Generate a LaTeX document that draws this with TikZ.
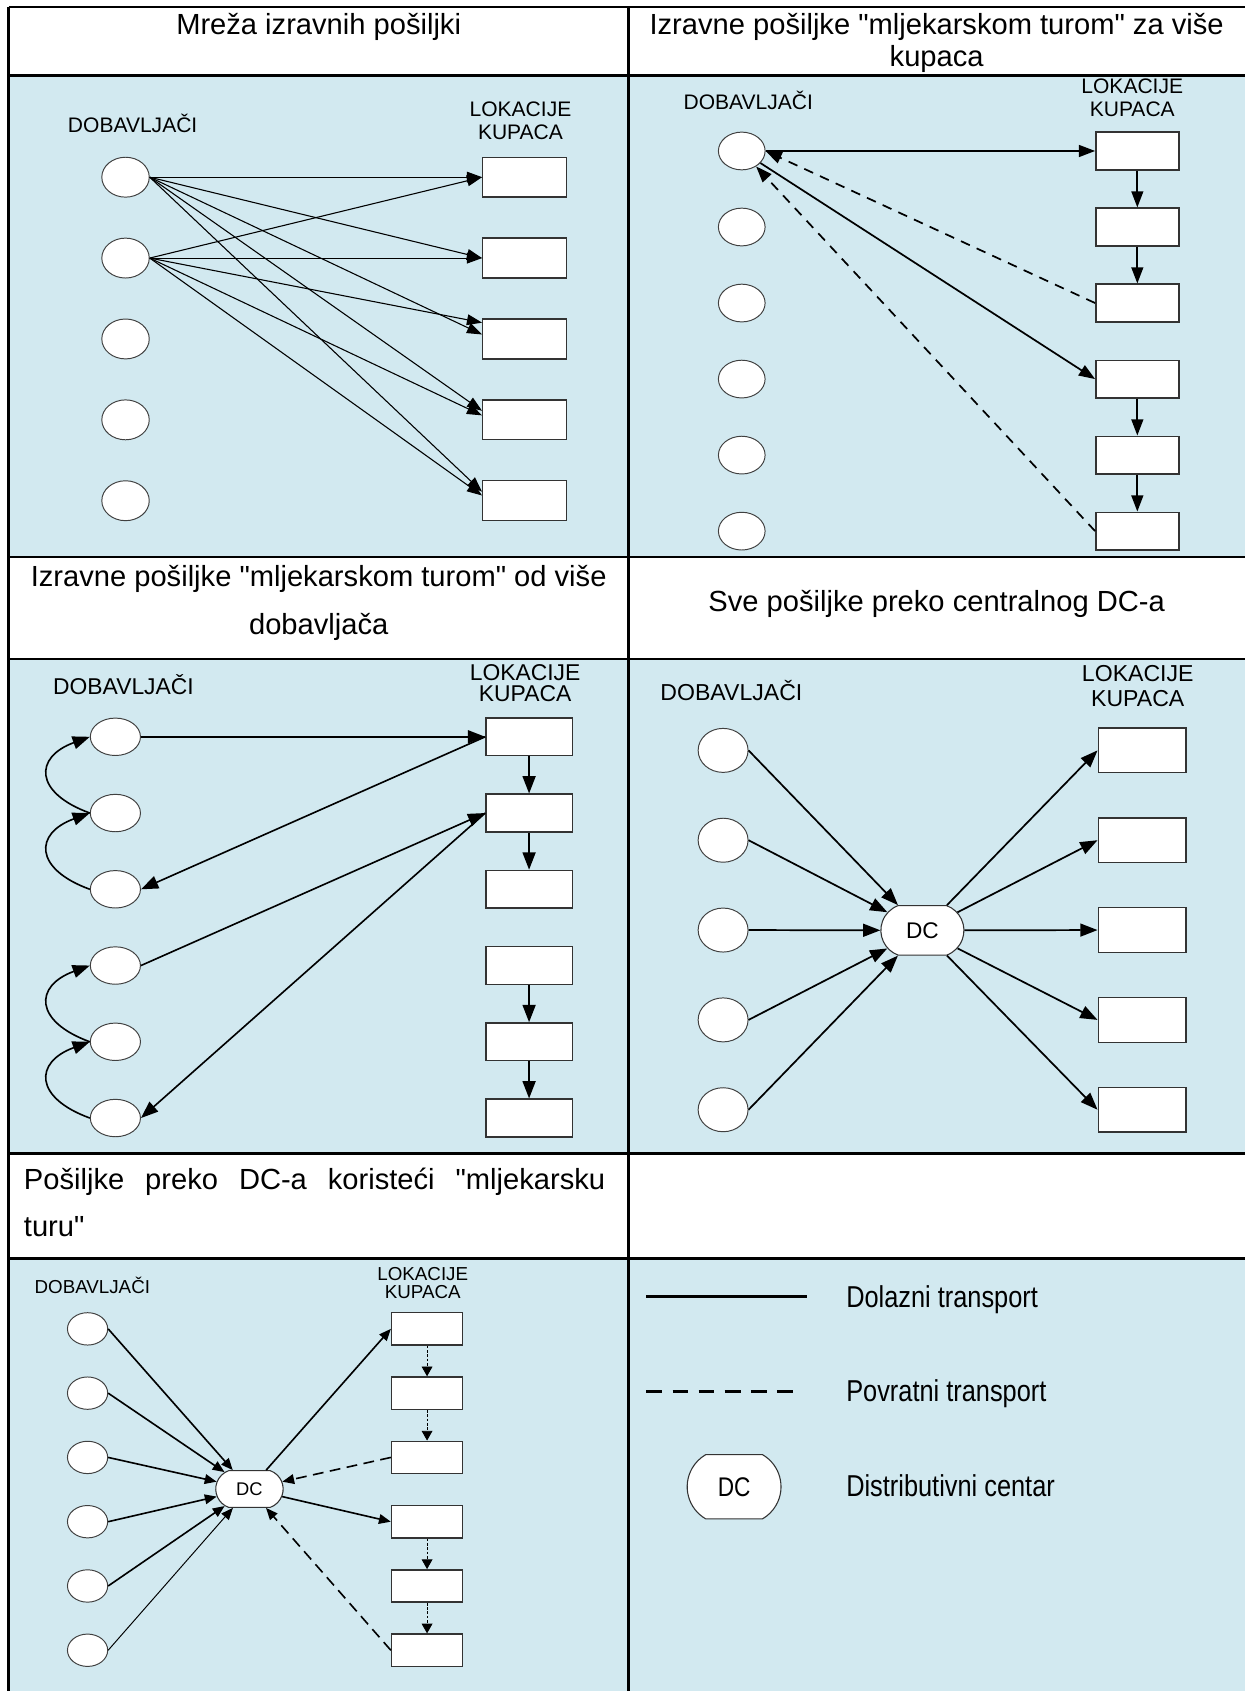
\documentclass[tikz,border=0pt]{standalone}
\usepackage{fontspec}
\setmainfont{Liberation Sans}[Ligatures=TeXOff]
\newfontfamily\narrowfont[FakeStretch=0.84]{Liberation Sans}
\usetikzlibrary{arrows.meta,shapes.geometric,shapes.misc,positioning}
\definecolor{panelblue}{RGB}{210,233,240}

\begin{document}
\begin{tikzpicture}[x=1pt, y=1pt, on grid,
  sup/.style = {draw=black!75, fill=white, ellipse, line width=0.9pt, inner sep=0pt},
  loc/.style = {draw=black!80, fill=white, rectangle, line width=1.3pt, inner sep=0pt},
  dc/.style = {draw=black!80, fill=white, rounded rectangle, rounded rectangle arc length=140, line width=1pt, inner sep=0pt},
  hdr/.style = {inner sep=0pt, anchor=base, font=\fontsize{27}{30}\selectfont},
  lbl/.style = {inner sep=0pt, anchor=base, font=\fontsize{19.5}{21}\selectfont},
  lok/.style = {inner sep=0pt, align=center, font=\fontsize{19.5}{21}\selectfont},
  leg/.style = {inner sep=0pt, anchor=base west, font=\narrowfont\fontsize{28}{30}\selectfont},
  back/.style = {dash pattern=on 9pt off 7pt},
  grid line/.style = {line width=2.6pt},
  >={Triangle[length=14pt,width=10pt]}]
\useasboundingbox (0,0) rectangle (1154,-1568);
\fill[white] (0,0) rectangle (1154,-1568);
\fill[panelblue] (8,-70) rectangle (1154,-516.5);
\fill[panelblue] (8,-611) rectangle (1154,-1069.5);
\fill[panelblue] (8,-1167) rectangle (1154,-1568);

% table
\draw[grid line] (8,-6.5) -- (1154,-6.5);
\draw[grid line] (8,-70) -- (1154,-70);
\draw[grid line] (8,-516.5) -- (1154,-516.5);
\draw[grid line] (8,-611) -- (1154,-611);
\draw[grid line] (8,-1069.5) -- (1154,-1069.5);
\draw[grid line] (8,-1167) -- (1154,-1167);
\draw[grid line] (8,-6.5) -- (8,-1568);
\draw[grid line] (583,-6.5) -- (583,-1568);

% headers
\node[hdr] (h1) at (295.5,-31.7) {Mreža izravnih pošiljki};
\node[hdr] (h2) at (868.5,-31.7) {Izravne pošiljke "mljekarskom turom" za više};
\node[hdr] (h2b) at (868.5,-61.7) {kupaca};
\node[hdr] (h3) at (295.5,-543.7) {Izravne pošiljke "mljekarskom turom" od više};
\node[hdr] (h3b) at (295.5,-588.7) {dobavljača};
\node[hdr] (h4) at (868.5,-566.7) {Sve pošiljke preko centralnog DC-a};
\node[hdr, anchor=base west] (h5) at (22,-1102.7) {\makebox[539pt][s]{Pošiljke preko DC-a koristeći "mljekarsku}};
\node[hdr, anchor=base west] (h5b) at (22,-1146.7) {turu"};

% mreza izravnih posiljki
\begin{scope}[node distance=75pt,
  sup/.append style={minimum width=44pt, minimum height=37pt},
  loc/.append style={minimum width=77.5pt, minimum height=37pt}]
\node[lbl] (p1d) at (123,-122.9) {DOBAVLJAČI};
\node[lok] (p1l) at (482.6,-111.7) {LOKACIJE\\KUPACA};
\node[sup] (p1s1) at (116.4,-164.3) {};
\node[sup] (p1s2) [below=of p1s1] {};
\node[sup] (p1s3) [below=of p1s2] {};
\node[sup] (p1s4) [below=of p1s3] {};
\node[sup] (p1s5) [below=of p1s4] {};
\node[loc] (p1k1) at (486.4,-164.3) {};
\node[loc] (p1k2) [below=of p1k1] {};
\node[loc] (p1k3) [below=of p1k2] {};
\node[loc] (p1k4) [below=of p1k3] {};
\node[loc] (p1k5) [below=of p1k4] {};

\draw[->, line width=1pt] (p1s1.east) -- (p1k1.west);
\draw[->, line width=1pt] (p1s1.east) -- (p1k2.west);
\draw[->, line width=1pt] (p1s1.east) -- (p1k3.174);
\draw[->, line width=1pt] (p1s1.east) -- (p1k4.168);
\draw[->, line width=1pt] (p1s1.east) -- (p1k5.168);
\draw[->, line width=1pt] (p1s2.east) -- (p1k1.west);
\draw[->, line width=1pt] (p1s2.east) -- (p1k2.west);
\draw[->, line width=1pt] (p1s2.east) -- (p1k3.159);
\draw[->, line width=1pt] (p1s2.east) -- (p1k4.174);
\draw[->, line width=1pt] (p1s2.east) -- (p1k5.173);
\end{scope}

% mljekarska tura za vise kupaca
\begin{scope}[node distance=70.5pt, line width=1.6pt,
  >={Triangle[length=15pt,width=11pt]},
  sup/.append style={minimum width=43.3pt, minimum height=35pt},
  loc/.append style={minimum width=77pt, minimum height=35pt}]
\node[lbl] (p2d) at (693.8,-101.4) {DOBAVLJAČI};
\node[lok] (p2l) at (1049.9,-90.4) {LOKACIJE\\KUPACA};
\node[sup] (p2s1) at (687.8,-140) {};
\node[sup] (p2s2) [below=of p2s1] {};
\node[sup] (p2s3) [below=of p2s2] {};
\node[sup] (p2s4) [below=of p2s3] {};
\node[sup] (p2s5) [below=of p2s4] {};
\node[sup] (p2s6) [below=of p2s5] {};
\node[loc] (p2k1) at (1054.6,-140) {};
\node[loc] (p2k2) [below=of p2k1] {};
\node[loc] (p2k3) [below=of p2k2] {};
\node[loc] (p2k4) [below=of p2k3] {};
\node[loc] (p2k5) [below=of p2k4] {};
\node[loc] (p2k6) [below=of p2k5] {};

\draw[->] (p2s1.east) -- (p2k1.west);
\draw[->] (p2k1) -- (p2k2);
\draw[->] (p2k2) -- (p2k3);
\draw[->, back] (p2k3.west) -- (p2s1.east);
\draw[->] (p2s1) -- (p2k4.west);
\draw[->] (p2k4) -- (p2k5);
\draw[->] (p2k5) -- (p2k6);
\draw[->, back] (p2k6.west) -- (p2s1);
\end{scope}

% mljekarska tura od vise dobavljaca
\begin{scope}[node distance=70.7pt, line width=1.5pt,
  >={Triangle[length=16pt,width=12pt]},
  sup/.append style={minimum width=46.5pt, minimum height=34.7pt},
  loc/.append style={minimum width=80pt, minimum height=35pt},
  lbl/.append style={font=\fontsize{21.2}{19}\selectfont},
  lok/.append style={font=\fontsize{21.2}{19}\selectfont}]
\node[lbl] (p3d) at (114.5,-644.4) {DOBAVLJAČI};
\node[lok] (p3l) at (486.9,-633.4) {LOKACIJE\\KUPACA};
\node[sup] (p3s1) at (107,-683.2) {};
\node[sup] (p3s2) [below=of p3s1] {};
\node[sup] (p3s3) [below=of p3s2] {};
\node[sup] (p3s4) [below=of p3s3] {};
\node[sup] (p3s5) [below=of p3s4] {};
\node[sup] (p3s6) [below=of p3s5] {};
\node[loc] (p3k1) at (490.6,-683.2) {};
\node[loc] (p3k2) [below=of p3k1] {};
\node[loc] (p3k3) [below=of p3k2] {};
\node[loc] (p3k4) [below=of p3k3] {};
\node[loc] (p3k5) [below=of p3k4] {};
\node[loc] (p3k6) [below=of p3k5] {};

\draw[->] (p3s1.east) -- (p3k1.west);
\draw[->] (p3k1.west) -- (p3s3.east);
\draw[->] (p3s4.east) -- (p3k2.west);
\draw[->] (p3k2.west) -- (p3s6.east);
\draw[->] (p3k1) -- (p3k2);
\draw[->] (p3k2) -- (p3k3);
\draw[->] (p3k4) -- (p3k5);
\draw[->] (p3k5) -- (p3k6);
\draw[->] (p3s2.west) to [out=160, in=200, looseness=2] (p3s1.west);
\draw[->] (p3s3.west) to [out=160, in=200, looseness=2] (p3s2.west);
\draw[->] (p3s5.west) to [out=160, in=200, looseness=2] (p3s4.west);
\draw[->] (p3s6.west) to [out=160, in=200, looseness=2] (p3s5.west);
\end{scope}

% sve preko centralnog DC-a
\begin{scope}[node distance=83.3pt, line width=1.6pt,
  >={Triangle[length=16pt,width=12pt]},
  sup/.append style={minimum width=46.3pt, minimum height=40.8pt},
  loc/.append style={minimum width=81.3pt, minimum height=41.5pt},
  lbl/.append style={font=\fontsize{21.4}{23}\selectfont},
  lok/.append style={font=\fontsize{21.4}{23}\selectfont}]
\node[lbl] (p4d) at (678.2,-649.4) {DOBAVLJAČI};
\node[lok] (p4l) at (1055,-636.5) {LOKACIJE\\KUPACA};
\node[sup] (p4s1) at (670.5,-695.8) {};
\node[sup] (p4s2) [below=of p4s1] {};
\node[sup] (p4s3) [below=of p4s2] {};
\node[sup] (p4s4) [below=of p4s3] {};
\node[sup] (p4s5) [below=of p4s4] {};
\node[loc] (p4k1) at (1059,-695.8) {};
\node[loc] (p4k2) [below=of p4k1] {};
\node[loc] (p4k3) [below=of p4k2] {};
\node[loc] (p4k4) [below=of p4k3] {};
\node[loc] (p4k5) [below=of p4k4] {};
\node[dc, minimum width=77pt, minimum height=46pt, font=\fontsize{21}{21}\selectfont] (p4dc) at (855.3,-862.7) {DC};

\draw[->] (p4s1.east) -- (p4dc);
\draw[->] (p4s2.east) -- (p4dc);
\draw[->] (p4s3.east) -- (p4dc);
\draw[->] (p4s4.east) -- (p4dc);
\draw[->] (p4s5.east) -- (p4dc);
\draw[->] (p4dc) -- (p4k1.west);
\draw[->] (p4dc) -- (p4k2.west);
\draw[->] (p4dc) -- (p4k3.west);
\draw[->] (p4dc) -- (p4k4.west);
\draw[->] (p4dc) -- (p4k5.west);
\end{scope}

% preko DC-a mljekarskom turom
\begin{scope}[node distance=59.6pt, line width=1.5pt,
  >={Triangle[length=11pt,width=9pt]},
  sup/.append style={minimum width=37.3pt, minimum height=30pt},
  loc/.append style={minimum width=65.9pt, minimum height=30pt},
  lbl/.append style={font=\fontsize{17.4}{17}\selectfont},
  lok/.append style={font=\fontsize{17.4}{17}\selectfont},
  back/.style={dash pattern=on 10pt off 6pt},
  hop/.style={->, line width=0.8pt, dash pattern=on 2.5pt off 1.5pt, >={Triangle[length=9pt,width=10pt]}}]
\node[lbl] (p5d) at (85.6,-1199) {DOBAVLJAČI};
\node[lok] (p5l) at (392,-1189.9) {LOKACIJE\\KUPACA};
\node[sup] (p5s1) at (81.2,-1232.2) {};
\node[sup] (p5s2) [below=of p5s1] {};
\node[sup] (p5s3) [below=of p5s2] {};
\node[sup] (p5s4) [below=of p5s3] {};
\node[sup] (p5s5) [below=of p5s4] {};
\node[sup] (p5s6) [below=of p5s5] {};
\node[loc] (p5k1) at (396,-1232.2) {};
\node[loc] (p5k2) [below=of p5k1] {};
\node[loc] (p5k3) [below=of p5k2] {};
\node[loc] (p5k4) [below=of p5k3] {};
\node[loc] (p5k5) [below=of p5k4] {};
\node[loc] (p5k6) [below=of p5k5] {};
\node[dc, minimum width=62.5pt, minimum height=34pt, font=\fontsize{17}{17}\selectfont] (p5dc) at (231.3,-1380.7) {DC};

\draw[->] (p5s1.east) -- (p5dc);
\draw[->] (p5s2.east) -- (p5dc);
\draw[->] (p5s3.east) -- (p5dc);
\draw[->] (p5s4.east) -- (p5dc);
\draw[->] (p5s5.east) -- (p5dc);
\draw[->, line width=0.9pt] (p5s6.east) -- (p5dc);
\draw[->] (p5dc) -- (p5k1.west);
\draw[->] (p5dc) -- (p5k4.west);
\draw[->, back] (p5k3.west) -- (p5dc);
\draw[->, back] (p5k6.west) -- (p5dc);
\draw[hop] (p5k1) -- (p5k2);
\draw[hop] (p5k2) -- (p5k3);
\draw[hop] (p5k4) -- (p5k5);
\draw[hop] (p5k5) -- (p5k6);
\end{scope}

% legend
\coordinate (l1a) at (599.4,-1202.3);
\coordinate (l1b) at (748.6,-1202.3);
\coordinate (l2a) at (599.4,-1290.2);
\coordinate (l2b) at (741,-1290.2);
\draw[line width=2.5pt] (l1a) -- (l1b);
\draw[line width=2.5pt, dash pattern=on 14.7pt off 9.5pt] (l2a) -- (l2b);
\node[dc, minimum width=87pt, minimum height=59.6pt, rounded rectangle arc length=120, font=\narrowfont\fontsize{25}{25}\selectfont] (ldc) at (680.7,-1378.6) {DC};
\node[leg] (t1) at (784.5,-1212) {Dolazni transport};
\node[leg] (t2) at (784.5,-1300) {Povratni transport};
\node[leg] (t3) at (784.5,-1388) {Distributivni centar};
\end{tikzpicture}
\end{document}
